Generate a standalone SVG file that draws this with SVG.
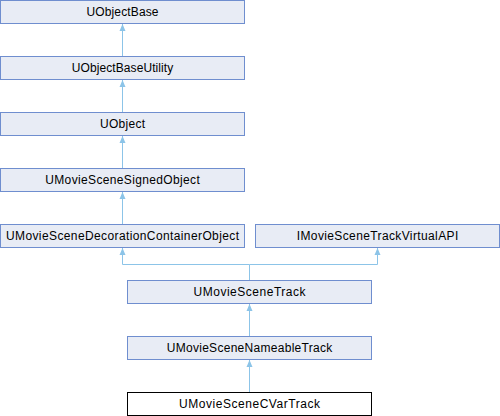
<svg xmlns="http://www.w3.org/2000/svg" width="500" height="416" viewBox="0 0 500 416">
<style>
.n rect{fill:#e8ecf5;stroke:#6f8ecf;stroke-width:1}
.n.cur rect{fill:#ffffff;stroke:#000000}
text{font-family:"Liberation Sans",Arial,sans-serif;font-size:12px;fill:#000;text-anchor:middle}
.e{fill:none;stroke:#8cc4e8;stroke-width:1}
</style>
<defs>
<marker id="ah" markerWidth="8" markerHeight="8" refX="7" refY="4" orient="auto" markerUnits="userSpaceOnUse">
<path d="M0,1 L7,4 L0,7 Z" fill="#8cc4e8"/>
</marker>
</defs>
<g id="connectors">
<path class="e" d="M122.5,56.5 V24" marker-end="url(#ah)"/>
<path class="e" d="M122.5,112.5 V80" marker-end="url(#ah)"/>
<path class="e" d="M122.5,168.5 V136" marker-end="url(#ah)"/>
<path class="e" d="M122.5,224.5 V192" marker-end="url(#ah)"/>
<path class="e" d="M249.5,280.5 V264.5 H122.5 V248" marker-end="url(#ah)"/>
<path class="e" d="M249.5,264.5 H377.5 V248" marker-end="url(#ah)"/>
<path class="e" d="M249.5,336.5 V304" marker-end="url(#ah)"/>
<path class="e" d="M249.5,392.5 V360" marker-end="url(#ah)"/>
</g>
<g id="UObjectBase" class="n"><rect x="0.5" y="0.5" width="244" height="23"/><text x="122.5" y="16" textLength="72" lengthAdjust="spacing">UObjectBase</text></g>
<g id="UObjectBaseUtility" class="n"><rect x="0.5" y="56.5" width="244" height="23"/><text x="122.5" y="72" textLength="101.5" lengthAdjust="spacing">UObjectBaseUtility</text></g>
<g id="UObject" class="n"><rect x="0.5" y="112.5" width="244" height="23"/><text x="122.5" y="128" textLength="45" lengthAdjust="spacing">UObject</text></g>
<g id="UMovieSceneSignedObject" class="n"><rect x="0.5" y="168.5" width="244" height="23"/><text x="122.5" y="184" textLength="154.5" lengthAdjust="spacing">UMovieSceneSignedObject</text></g>
<g id="UMovieSceneDecorationContainerObject" class="n"><rect x="0.5" y="224.5" width="244" height="23"/><text x="122.5" y="240" textLength="233" lengthAdjust="spacing">UMovieSceneDecorationContainerObject</text></g>
<g id="IMovieSceneTrackVirtualAPI" class="n"><rect x="255.5" y="224.5" width="244" height="23"/><text x="377.5" y="240" textLength="161.5" lengthAdjust="spacing">IMovieSceneTrackVirtualAPI</text></g>
<g id="UMovieSceneTrack" class="n"><rect x="127.5" y="280.5" width="244" height="23"/><text x="249.5" y="296" textLength="112" lengthAdjust="spacing">UMovieSceneTrack</text></g>
<g id="UMovieSceneNameableTrack" class="n"><rect x="127.5" y="336.5" width="244" height="23"/><text x="249.5" y="352" textLength="165.5" lengthAdjust="spacing">UMovieSceneNameableTrack</text></g>
<g id="UMovieSceneCVarTrack" class="n cur"><rect x="127.5" y="392.5" width="244" height="23"/><text x="249.5" y="408" textLength="141" lengthAdjust="spacing">UMovieSceneCVarTrack</text></g>
</svg>
